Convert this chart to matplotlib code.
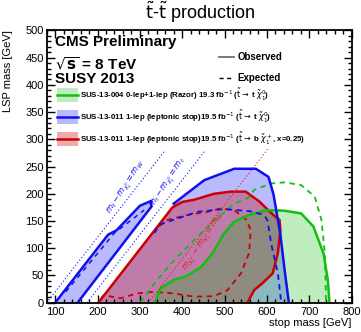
import numpy as np
import matplotlib
matplotlib.use("Agg")
from matplotlib import pyplot as plt
from matplotlib.ticker import MultipleLocator

plt.rcParams['font.family'] = ['Liberation Sans', 'DejaVu Sans']
plt.rcParams['mathtext.fontset'] = 'dejavusans'

# contours (stop mass, LSP mass) in GeV
blue_fill_x = [200, 380, 452, 523, 574, 604, 616, 632, 642, 652]
blue_fill_y = [0, 182, 225, 246, 246, 231, 198, 125, 60, 0]
blue_obs_x = [380, 452, 523, 574, 604, 616, 632, 642, 652]
blue_obs_y = [182, 225, 246, 246, 231, 198, 125, 60, 0]
blue_exp_x = [335, 345, 436, 500, 560, 594, 602, 610, 626, 634]
blue_exp_y = [128, 143, 167, 172, 168, 161, 150, 109, 54, 0]

band_x = [100, 225, 245, 300, 327, 327, 153]
band_y = [0, 125, 133, 178, 187, 176, 0]
band_exp_x = [125, 240, 310]
band_exp_y = [20, 128, 170]

red_obs_x = [202, 377, 400, 428, 475, 515, 550, 582, 614, 630, 632, 626, 614, 590, 570, 554]
red_obs_y = [0, 175, 185, 189, 200, 204, 204, 186, 162, 152, 133, 91, 54, 36, 23, 0]
red_exp_x = [345, 365, 412, 460, 491, 523, 552, 562, 558, 539, 507, 475, 428, 380, 333, 293, 254, 214, 208]
red_exp_y = [140, 152, 161, 167, 173, 170, 152, 133, 91, 54, 23, 12, 11, 17, 20, 17, 8, 14, 6]

green_obs_x = [335, 349, 380, 408, 444, 472, 497, 523, 558, 600, 641, 681, 710, 734, 744, 748]
green_obs_y = [0, 26, 42, 48, 65, 91, 125, 149, 161, 170, 169, 164, 140, 90, 42, 0]
green_exp_x = [301, 341, 381, 428, 475, 523, 555, 570, 610, 642, 681, 713, 729, 737, 740]
green_exp_y = [0, 42, 78, 115, 150, 182, 192, 207, 219, 221, 216, 195, 152, 91, 0]

# kinematic lines m_stop - m_LSP = offset
diag_offsets = [80, 175, 320]
diag_ends = [360, 455, 605]

legend_labels = [
    r'SUS-13-004 0-lep+1-lep (Razor) 19.3 fb$^{-1}$ ($\tilde{\rm t}\rightarrow$ t $\tilde{\chi}^0_1$)',
    r'SUS-13-011 1-lep (leptonic stop)19.5 fb$^{-1}$ ($\tilde{\rm t}\rightarrow$ t $\tilde{\chi}^0_1$)',
    r'SUS-13-011 1-lep (leptonic stop)19.5 fb$^{-1}$ ($\tilde{\rm t}\rightarrow$ b $\tilde{\chi}^+_1$, x=0.25)',
]

blue = '#1010ee'
red = '#cc0000'
green = '#10c010'

fig = plt.figure(figsize=(3.61, 3.32), dpi=100)
ax = fig.add_axes([0.1294, 0.0883, 0.8443, 0.8199])

# fills
ax.fill(blue_fill_x, blue_fill_y, color=(0, 0, 1), alpha=0.27, lw=0)
ax.fill(band_x, band_y, color=(0, 0, 1), alpha=0.27, lw=0)
ax.fill(red_obs_x, red_obs_y, color=(0.8, 0, 0), alpha=0.33, lw=0)
ax.plot(red_obs_x, red_obs_y, color=red, lw=1.8)
ax.plot(red_exp_x, red_exp_y, color=red, lw=1.3, ls=(0, (3, 2.5)))
ax.fill(green_obs_x, green_obs_y, color=(0, 0.72, 0), alpha=0.25, lw=0)
ax.plot(green_obs_x, green_obs_y, color=green, lw=1.8)
ax.plot(green_exp_x, green_exp_y, color=green, lw=1.3, ls=(0, (3, 2.5)))
ax.plot(blue_obs_x, blue_obs_y, color=blue, lw=1.8)
ax.plot(blue_exp_x, blue_exp_y, color=blue, lw=1.3, ls=(0, (3, 2.5)))
ax.plot(band_x, band_y, color=blue, lw=1.8)
ax.plot(band_exp_x, band_exp_y, color=blue, lw=1.1, ls=(0, (3, 3)))

# diagonal dotted lines
dcolors = [blue, blue, '#dd2020']
for off, end, c in zip(diag_offsets, diag_ends, dcolors):
    xs = np.array([off, end])
    ax.plot(xs, xs - off, color=c, lw=0.8, ls=(0, (1, 2)))

ax.text(270, 212, r'$m_{\tilde{t}}-m_{\tilde{\chi}^0_1}=m_W$', color=blue, fontsize=6,
        rotation=57, ha='center', va='center')
ax.text(368, 220, r'$m_{\tilde{t}}-m_{\tilde{\chi}^0_1}=m_t$', color=blue, fontsize=6,
        rotation=57, ha='center', va='center')
ax.text(452, 112, r'$m_{\tilde{\chi}^\pm_1}-m_{\tilde{\chi}^0_1}=m_W$', color='#dd2020', fontsize=6,
        rotation=57, ha='center', va='center')

ax.set_xlim(80, 800)
ax.set_ylim(0, 500)
ax.xaxis.set_major_locator(MultipleLocator(100))
ax.xaxis.set_minor_locator(MultipleLocator(20))
ax.yaxis.set_major_locator(MultipleLocator(50))
ax.yaxis.set_minor_locator(MultipleLocator(10))
ax.tick_params(which='both', direction='in', top=True, right=True, labelsize=8, width=1)
ax.tick_params(which='major', length=6)
ax.tick_params(which='minor', length=3)
ax.tick_params(axis='x', pad=3)
ax.tick_params(axis='y', pad=2)
for s in ax.spines.values():
    s.set_linewidth(1.3)

fig.text(0.5537, 0.962, r'$\tilde{\rm t}$-$\tilde{\rm t}$ production', ha='center', va='center', fontsize=13)
ax.set_xlabel('stop mass [GeV]', fontsize=8, ha='right')
ax.xaxis.set_label_coords(1.0, -0.058)
ax.set_ylabel('LSP mass [GeV]', fontsize=8, ha='right')
ax.yaxis.set_label_coords(-0.11, 1.0)

ax.text(0.027, 0.958, 'CMS Preliminary', transform=ax.transAxes, fontsize=11,
        fontweight='bold', va='center')
ax.text(0.027, 0.877, r'$\sqrt{\mathbf{s}}$ = 8 TeV', transform=ax.transAxes, fontsize=11,
        fontweight='bold', va='center')
ax.text(0.027, 0.822, 'SUSY 2013', transform=ax.transAxes, fontsize=11,
        fontweight='bold', va='center')

ax.plot([0.565, 0.614], [0.903, 0.903], transform=ax.transAxes, color='#707070', lw=1.3)
ax.text(0.626, 0.903, 'Observed', transform=ax.transAxes, fontsize=7, fontweight='bold', va='center')
ax.plot([0.565, 0.614], [0.825, 0.825], transform=ax.transAxes, color='black', lw=1.0, ls=(0, (3, 2.5)))
ax.text(0.626, 0.825, 'Expected', transform=ax.transAxes, fontsize=7, fontweight='bold', va='center')

leg_y = [0.763, 0.682, 0.601]
leg_fill = [(0, 0.72, 0, 0.25), (0, 0, 1, 0.27), (0.8, 0, 0, 0.33)]
leg_line = [green, blue, red]
for yy, lab, fc, lc in zip(leg_y, legend_labels, leg_fill, leg_line):
    ax.add_patch(plt.Rectangle((0.034, yy - 0.027), 0.069, 0.054, transform=ax.transAxes,
                               facecolor=fc, edgecolor='none'))
    ax.plot([0.034, 0.103], [yy, yy], transform=ax.transAxes, color=lc, lw=1.8)
    ax.text(0.109, yy, lab, transform=ax.transAxes, fontsize=5.7, fontweight='bold', va='center')

fig.savefig('out.png', dpi=100)
